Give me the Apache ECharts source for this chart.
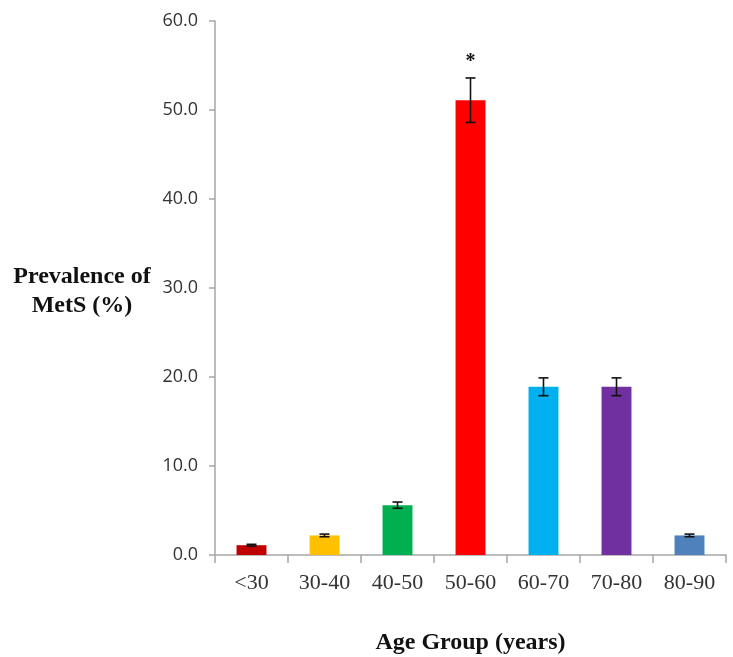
<!DOCTYPE html>
<html><head><meta charset="utf-8">
<script src="https://cdn.jsdelivr.net/npm/echarts@6/dist/echarts.min.js"></script>
<style>html,body{margin:0;padding:0;background:#fff}#c{width:733px;height:657px}</style>
</head><body><div id="c"></div>
<script>
const categories = ['<30','30-40','40-50','50-60','60-70','70-80','80-90'];
const values = [1.1, 2.2, 5.6, 51.1, 18.9, 18.9, 2.2];
const errors = [0.1, 0.15, 0.35, 2.5, 1.0, 1.0, 0.15];
const marks = ['', '', '', '*', '', '', ''];
const colors = ['#C00000','#FFC000','#00B050','#FF0000','#00B0F0','#7030A0','#4F81BD'];
const yTicks = [0, 10, 20, 30, 40, 50, 60];

const chart = echarts.init(document.getElementById('c'));
chart.setOption({
  animation: false,
  grid: {left: 215, right: 7, top: 21, bottom: 102, containLabel: false, outerBoundsMode: 'none'},
  xAxis: {
    type: 'category', data: categories,
    axisLine: {lineStyle: {color: '#a6a6a6', width: 1.5}},
    axisTick: {show: true, length: 8, alignWithLabel: false, lineStyle: {color: '#a6a6a6', width: 1.5}},
    axisLabel: {color: '#333', fontFamily: 'Liberation Serif', fontSize: 22, margin: 17},
    name: 'Age Group (years)', nameLocation: 'middle', nameGap: 76,
    nameTextStyle: {color: '#111', fontFamily: 'Liberation Serif', fontWeight: 'bold', fontSize: 24}
  },
  yAxis: {
    type: 'value', min: 0, max: 60, interval: 10,
    axisLine: {show: true, lineStyle: {color: '#a6a6a6', width: 1.5}},
    axisTick: {show: true, length: 6, lineStyle: {color: '#a6a6a6', width: 1.5}},
    splitLine: {show: false},
    axisLabel: {color: '#333', fontFamily: 'Open Sans', fontSize: 18, margin: 17,
      formatter: v => yTicks.includes(v) ? v.toFixed(1) : ''}
  },
  graphic: [{
    type: 'text', x: 82, y: 262,
    style: {text: 'Prevalence of\nMetS (%)', fill: '#111', align: 'center', verticalAlign: 'top',
      font: 'bold 24px "Liberation Serif"', lineHeight: 29}
  }],
  series: [{
    type: 'bar', barWidth: '41%',
    data: values.map((v, i) => ({value: v, itemStyle: {color: colors[i]}}))
  }, {
    type: 'custom', z: 5,
    data: values.map((v, i) => [i, v, errors[i]]),
    renderItem: (params, api) => {
      const i = api.value(0), v = api.value(1), e = api.value(2);
      const top = api.coord([i, v + e]);
      const bot = api.coord([i, v - e]);
      const cap = 5;
      const ls = {stroke: '#111', lineWidth: 1.6};
      const children = [
        {type: 'line', shape: {x1: top[0], y1: top[1], x2: bot[0], y2: bot[1]}, style: ls},
        {type: 'line', shape: {x1: top[0]-cap, y1: top[1], x2: top[0]+cap, y2: top[1]}, style: ls},
        {type: 'line', shape: {x1: bot[0]-cap, y1: bot[1], x2: bot[0]+cap, y2: bot[1]}, style: ls}
      ];
      const m = marks[params.dataIndex];
      if (m) {
        children.push({type: 'text', style: {text: m, x: top[0], y: top[1] - 16,
          align: 'center', verticalAlign: 'middle', fill: '#111', font: 'bold 20px "Liberation Serif"'}});
      }
      return {type: 'group', children};
    }
  }]
});
</script></body></html>
